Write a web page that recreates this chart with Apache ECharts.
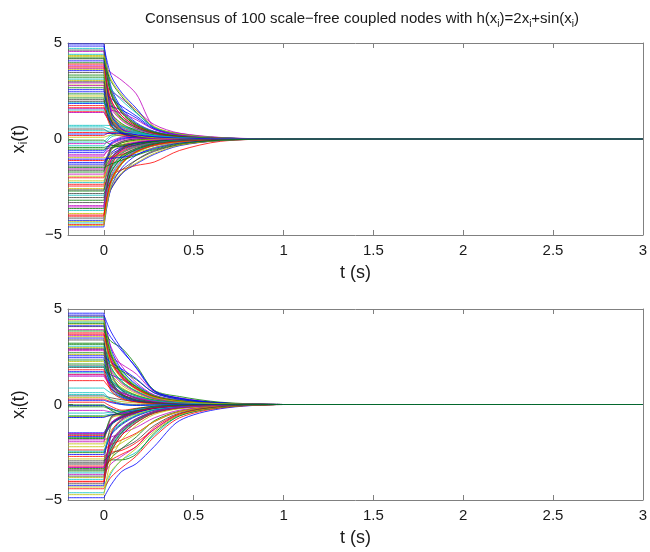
<!DOCTYPE html>
<html><head><meta charset="utf-8">
<script src="https://cdn.jsdelivr.net/npm/echarts@6/dist/echarts.min.js"></script>
<style>html,body{margin:0;padding:0;background:#fff}#c{width:650px;height:552px}</style>
</head><body><div id="c"></div><script>
// sample times (s); the first value of each node is held from t=-0.2 to t=0
const sampleTimes = [-0.2, 0, 0.04, 0.1, 0.18, 0.28, 0.42, 0.65, 1.0, 3];
// each row: x(0), x(0.04), x(0.1), x(0.18), x(0.28), x(0.42), x(0.65)
const topNodes = [
[4.95,2.7,1.6,0.85,0.4,0.18,0.05],[-3.62,-1.1,-0.45,-0.2,-0.08,-0.03,0],[1.42,0.8,0.5,0.3,0.15,0.07,0.02],[-0.35,0.1,0.2,0.12,0.06,0.02,0.01],[3.81,3.45,3.05,2.35,0.62,0.3,0.08],
[-2.18,-1.2,-0.7,-0.4,-0.2,-0.08,-0.02],[0.52,0.3,0.15,0.08,0.04,0.02,0],[-4.58,-2.5,-1.5,-0.85,-0.45,-0.2,-0.05],[2.67,0.9,0.35,0.15,0.07,0.03,0.01],[-1.12,-0.95,-0.8,-0.6,-0.35,-0.15,-0.04],
[4.41,1.4,0.5,0.2,0.1,0.04,0.01],[-0.82,-0.5,-0.3,-0.18,-0.1,-0.05,-0.01],[3.05,1.7,1.0,0.55,0.28,0.12,0.03],[-4.12,-1.3,-0.5,-0.2,-0.1,-0.04,-0.01],[1.85,1.7,1.5,1.1,0.5,0.2,0.05],
[-2.71,-1.5,-0.9,-0.5,-0.25,-0.1,-0.02],[0.18,0.35,0.3,0.15,0.07,0.03,0.01],[4.72,2.6,1.5,0.8,0.38,0.15,0.04],[-1.56,-0.5,-0.15,0,0.02,0.01,0],[2.24,1.3,0.75,0.42,0.2,0.08,0.02],
[-3.31,-2.6,-1.8,-1.1,-0.6,-0.3,-0.08],[3.56,1.1,0.45,0.2,0.08,0.03,0.01],[-0.06,-0.3,-0.4,-0.3,-0.16,-0.07,-0.02],[1.63,1.0,0.6,0.35,0.18,0.08,0.02],[-4.37,-2.3,-1.3,-0.7,-0.35,-0.15,-0.04],
[2.92,2.5,2.1,1.5,0.75,0.3,0.07],[-1.94,-0.6,-0.2,-0.05,0,0,0],[4.18,2.3,1.35,0.7,0.33,0.14,0.04],[-0.61,-0.2,0.05,0.08,0.04,0.02,0],[3.33,1.8,1.05,0.6,0.3,0.12,0.03],
[-2.45,-1.9,-1.6,-1.38,-1.2,-0.6,-0.12],[0.63,0.5,0.45,0.35,0.2,0.09,0.02],[4.56,1.5,0.55,0.22,0.1,0.04,0.01],[-3.88,-2.1,-1.2,-0.65,-0.3,-0.12,-0.03],[2.05,0.7,0.3,0.12,0.05,0.02,0],
[-1.31,-0.8,-0.5,-0.3,-0.15,-0.06,-0.01],[3.97,3.0,2.2,1.4,0.6,0.25,0.06],[-4.45,-1.5,-0.55,-0.22,-0.1,-0.04,-0.01],[1.51,0.9,0.55,0.32,0.16,0.07,0.02],[-0.24,-0.1,0.1,0.15,0.1,0.04,0.01],
[2.81,0.9,0.35,0.15,0.06,0.02,0],[-3.05,-1.7,-1.0,-0.55,-0.27,-0.1,-0.03],[4.84,3.3,2.4,1.6,0.55,0.22,0.05],[-1.72,-0.55,-0.2,-0.06,-0.01,0,0],[0.34,0.3,0.25,0.15,0.07,0.03,0.01],
[-2.93,-1.6,-0.95,-0.55,-0.26,-0.1,-0.03],[3.68,2.0,1.2,0.65,0.3,0.12,0.03],[-0.97,-0.9,-0.85,-0.7,-0.45,-0.2,-0.05],[1.96,1.15,0.7,0.4,0.2,0.08,0.02],[-4.24,-2.6,-1.8,-1.3,-0.8,-0.35,-0.08],
[3.22,1.0,0.4,0.17,0.07,0.03,0.01],[-2.02,-1.1,-0.65,-0.38,-0.18,-0.07,-0.02],[0.71,0.7,0.65,0.5,0.3,0.12,0.03],[-3.47,-1.9,-1.1,-0.6,-0.3,-0.12,-0.03],[4.29,2.4,1.4,0.75,0.35,0.15,0.04],
[-1.41,-0.45,-0.12,0,0.02,0.01,0],[2.46,2.1,1.7,1.2,0.55,0.22,0.05],[-0.44,-0.35,-0.3,-0.22,-0.12,-0.05,-0.01],[3.9,1.2,0.45,0.18,0.08,0.03,0.01],[-3.72,-2.0,-1.15,-0.62,-0.3,-0.12,-0.03],
[1.38,0.85,0.5,0.3,0.15,0.06,0.02],[-2.58,-0.8,-0.3,-0.1,-0.03,-0.01,0],[4.63,2.5,1.45,0.78,0.37,0.15,0.04],[-0.71,-0.25,0,0.06,0.04,0.02,0],[2.35,1.35,0.8,0.45,0.22,0.09,0.02],
[-4.02,-2.2,-1.25,-0.68,-0.32,-0.13,-0.03],[3.12,2.6,2.0,1.35,0.6,0.25,0.06],[-1.83,-1.05,-0.6,-0.35,-0.18,-0.07,-0.02],[0.09,0.2,0.2,0.12,0.06,0.02,0.01],[-2.84,-2.2,-1.6,-1.1,-0.65,-0.3,-0.07],
[4.07,1.3,0.5,0.2,0.08,0.03,0.01],[-3.19,-1.75,-1.0,-0.55,-0.27,-0.1,-0.03],[1.74,0.6,0.25,0.1,0.04,0.02,0],[-0.16,0.2,0.35,0.3,0.17,0.07,0.02],[2.78,1.6,0.95,0.52,0.25,0.1,0.03],
[-4.5,-2.5,-1.75,-1.25,-0.75,-0.32,-0.08],[3.46,1.9,1.1,0.6,0.29,0.12,0.03],[-1.22,-0.7,-0.4,-0.22,-0.1,-0.04,-0.01],[2.14,0.7,0.3,0.12,0.05,0.02,0],[-2.36,-1.3,-0.75,-0.42,-0.2,-0.08,-0.02],
[0.43,0.4,0.38,0.28,0.15,0.06,0.02],[-3.54,-1.1,-0.4,-0.15,-0.06,-0.02,0],[4.35,3.1,2.3,1.5,0.65,0.26,0.06],[-1.63,-0.95,-0.55,-0.32,-0.15,-0.06,-0.01],[2.57,0.8,0.3,0.12,0.05,0.02,0],
[-0.53,-0.45,-0.35,-0.25,-0.13,-0.05,-0.01],[3.75,2.05,1.2,0.66,0.31,0.13,0.03],[-2.27,-1.25,-0.72,-0.4,-0.2,-0.08,-0.02],[1.58,1.5,1.35,1.0,0.5,0.2,0.05],[-4.29,-2.3,-1.3,-0.7,-0.34,-0.14,-0.04],
[2.98,0.95,0.35,0.15,0.06,0.02,0],[-1.05,-1.0,-0.95,-0.8,-0.5,-0.22,-0.05],[4.22,2.35,1.35,0.72,0.34,0.14,0.04],[-3.96,-2.15,-1.25,-0.66,-0.32,-0.13,-0.03],[1.89,1.1,0.65,0.38,0.19,0.08,0.02],
[-0.89,-0.3,-0.05,0.05,0.03,0.01,0],[3.63,1.15,0.45,0.18,0.07,0.03,0.01],[-2.65,-1.45,-0.85,-0.48,-0.23,-0.09,-0.02],[0.26,0.3,0.3,0.22,0.12,0.05,0.01],[-1.49,-1.3,-1.1,-0.85,-0.55,-0.25,-0.06]
];
const bottomNodes = [
[4.78,2.9,1.8,1.05,0.48,0.22,0.05],[-3.35,-2.8,-2.3,-1.7,-0.85,-0.35,-0.08],[1.25,0.8,0.5,0.3,0.14,0.06,0.01],[-0.58,-0.5,-0.55,-0.35,-0.15,-0.06,-0.01],[3.92,2.4,1.5,0.85,0.4,0.18,0.04],
[-2.06,-0.75,-0.5,-0.3,-0.12,-0.05,-0.01],[0.45,0.35,0.25,0.15,0.07,0.03,0],[-4.88,-4.2,-3.5,-3.1,-2.2,-0.85,-0.22],[2.71,1.0,0.45,0.2,0.08,0.03,0],[-1.62,-1.0,-0.65,-0.4,-0.2,-0.08,-0.02],
[4.32,1.6,0.7,0.3,0.12,0.05,0.01],[-3.28,-2.0,-1.3,-0.78,-0.38,-0.16,-0.04],[2.98,1.85,1.15,0.68,0.3,0.14,0.03],[-4.15,-2.5,-1.6,-0.95,-0.45,-0.2,-0.05],[1.72,1.55,1.3,0.95,0.45,0.2,0.04],
[-2.52,-1.55,-1.0,-0.58,-0.28,-0.12,-0.03],[0.12,-0.1,-0.3,-0.2,-0.1,-0.04,-0.01],[4.55,2.75,1.7,1.0,0.46,0.2,0.05],[-1.85,-1.7,-1.5,-1.2,-0.7,-0.3,-0.07],[2.25,1.4,0.88,0.5,0.24,0.1,0.02],
[-3.42,-2.1,-1.35,-0.8,-0.38,-0.16,-0.04],[3.48,1.3,0.55,0.25,0.1,0.04,0.01],[-0.64,-0.55,-0.5,-0.38,-0.2,-0.08,-0.02],[1.58,1.0,0.62,0.36,0.17,0.07,0.02],[-4.62,-3.6,-2.9,-2.5,-1.6,-0.6,-0.15],
[2.88,2.5,2.1,1.6,0.68,0.35,0.09],[-2.21,-1.35,-0.85,-0.5,-0.24,-0.1,-0.02],[4.08,2.5,1.55,0.9,0.42,0.18,0.04],[-0.05,-0.2,-0.4,-0.3,-0.15,-0.06,-0.01],[3.21,1.95,1.2,0.7,0.33,0.15,0.03],
[-2.72,-2.5,-2.4,-2.0,-1.3,-0.5,-0.12],[0.52,0.2,0,-0.05,-0.03,-0.01,0],[4.46,3.0,2.0,1.15,0.5,0.22,0.05],[-3.82,-2.3,-1.45,-0.85,-0.4,-0.17,-0.04],[2.02,0.8,0.35,0.15,0.06,0.02,0],
[-1.48,-0.95,-0.6,-0.36,-0.17,-0.07,-0.02],[3.85,3.3,2.95,2.05,0.75,0.42,0.12],[-4.41,-3.8,-3.3,-2.7,-1.7,-0.7,-0.18],[1.66,1.05,0.65,0.38,0.18,0.08,0.02],[-0.31,-0.4,-0.5,-0.32,-0.15,-0.06,-0.01],
[2.62,1.6,1.0,0.58,0.27,0.12,0.03],[-3.05,-1.1,-0.6,-0.35,-0.15,-0.06,-0.01],[4.68,3.8,2.9,1.9,0.7,0.32,0.08],[-1.74,-1.08,-0.7,-0.42,-0.2,-0.08,-0.02],[0.28,0.15,0.05,0,0,0,0],
[-3.58,-2.2,-1.4,-0.82,-0.4,-0.17,-0.04],[3.62,2.2,1.4,0.8,0.38,0.17,0.04],[-0.61,-0.6,-0.6,-0.5,-0.3,-0.13,-0.03],[1.94,1.2,0.75,0.44,0.21,0.09,0.02],[-4.25,-1.6,-0.8,-0.45,-0.2,-0.08,-0.02],
[3.15,1.2,0.5,0.22,0.09,0.04,0.01],[-2.38,-2.1,-1.85,-1.5,-0.9,-0.38,-0.09],[0.86,0.6,0.4,0.24,0.11,0.05,0.01],[-3.66,-3.1,-2.7,-2.2,-1.3,-0.55,-0.14],[4.21,2.6,1.6,0.92,0.43,0.19,0.05],
[-1.56,-1.0,-0.63,-0.38,-0.18,-0.07,-0.02],[2.45,0.9,0.4,0.18,0.07,0.03,0],[-0.12,-0.25,-0.35,-0.3,-0.16,-0.07,-0.02],[3.75,2.3,1.45,0.84,0.4,0.17,0.04],[-3.92,-2.4,-1.5,-0.9,-0.42,-0.18,-0.04],
[1.48,0.95,0.6,0.35,0.16,0.07,0.02],[-2.85,-2.4,-2.0,-1.55,-0.9,-0.38,-0.09],[4.62,1.7,0.75,0.32,0.13,0.05,0.01],[-0.68,-0.55,-0.45,-0.3,-0.15,-0.06,-0.01],[2.33,2.05,1.75,1.3,0.62,0.28,0.07],
[-4.05,-2.5,-1.6,-0.95,-0.45,-0.19,-0.05],[3.05,1.9,1.2,0.7,0.33,0.14,0.03],[-1.95,-0.7,-0.45,-0.25,-0.1,-0.04,-0.01],[0.36,0.25,0.15,0.08,0.04,0.02,0],[-3.12,-1.95,-1.25,-0.74,-0.36,-0.15,-0.04],
[4.12,3.5,2.8,1.95,0.72,0.33,0.08],[-3.48,-2.9,-2.9,-2.6,-1.5,-0.6,-0.15],[1.82,0.7,0.3,0.13,0.05,0.02,0],[-0.45,-0.4,-0.38,-0.28,-0.14,-0.06,-0.01],[2.82,1.75,1.1,0.64,0.3,0.13,0.03],
[-4.72,-2.9,-1.85,-1.1,-0.52,-0.22,-0.05],[3.38,1.25,0.55,0.24,0.1,0.04,0.01],[-2.62,-1.6,-1.05,-0.62,-0.3,-0.13,-0.03],[2.12,1.3,0.82,0.48,0.23,0.1,0.02],[-3.22,-2.9,-2.6,-2.2,-1.2,-0.5,-0.12],
[0.62,0.25,0.05,-0.02,-0.01,0,0],[-1.52,-0.95,-0.6,-0.36,-0.17,-0.07,-0.02],[4.38,2.7,1.65,0.95,0.45,0.2,0.05],[-3.75,-2.3,-1.45,-0.85,-0.4,-0.17,-0.04],[2.55,2.2,1.85,1.35,0.6,0.27,0.07],
[-0.02,-0.3,-0.55,-0.35,-0.15,-0.06,-0.01],[3.68,2.25,1.4,0.82,0.39,0.17,0.04],[-2.45,-1.5,-0.95,-0.56,-0.27,-0.11,-0.03],[1.55,1.0,0.62,0.36,0.17,0.07,0.02],[-4.32,-3.5,-2.9,-2.3,-1.4,-0.55,-0.14],
[2.92,1.1,0.48,0.21,0.08,0.03,0],[-1.68,-1.05,-0.68,-0.4,-0.19,-0.08,-0.02],[4.25,2.6,1.6,0.93,0.44,0.19,0.05],[-4.02,-1.5,-0.75,-0.4,-0.18,-0.07,-0.02],[1.98,1.25,0.78,0.45,0.21,0.09,0.02],
[-3.3,-2.05,-1.3,-0.77,-0.37,-0.16,-0.04],[3.55,2.15,1.35,0.78,0.37,0.16,0.04],[-2.95,-2.6,-2.3,-1.9,-1.1,-0.45,-0.11],[0.22,0.1,0,-0.05,-0.03,-0.01,0],[-1.78,-0.65,-0.4,-0.22,-0.09,-0.04,-0.01]
];
const consensusTop = 0;
const consensusBottom = 0;
const xTicks = [0, 0.5, 1, 1.5, 2, 2.5, 3];
const yTicks = [-5, 0, 5];
const lineColors = ['#0000ff', '#008000', '#ff0000', '#00bfbf', '#bf00bf', '#bfbf00', '#404040'];
const titleText = '{a|Consensus of 100 scale\u2212free coupled nodes with h(x}{s|i}{a|)=2x}{s|i}{a|+sin(x}{s|i}{a|)}';

const FONT = '"Liberation Sans", Arial, Helvetica, sans-serif';
const AXC = '#808080';
const TXT = '#1a1a1a';

function buildSeries(nodes, consensus, xIdx, yIdx) {
  return nodes.map((row, i) => {
    const vals = [row[0]].concat(row, [consensus, consensus]);
    const pts = sampleTimes.map((t, k) => [t, vals[k]]);
    // break after the held initial segment so the decay starts with its own tangent
    const data = [pts[0], pts[1], [sampleTimes[1], '-']].concat(pts.slice(1));
    return {
      type: 'line', xAxisIndex: xIdx, yAxisIndex: yIdx,
      data: data, connectNulls: false,
      showSymbol: false, symbol: 'none', smooth: 0.3,
      lineStyle: { width: 0.8, color: lineColors[i % lineColors.length] },
      silent: true, animation: false, clip: true
    };
  });
}
const fmtNum = v => (v < 0 ? '\u2212' + Math.abs(v) : String(v));

function xAxes(g) {
  return [{
    gridIndex: g, type: 'value', min: -0.2, max: 3, position: 'bottom',
    axisLine: { show: true, onZero: false, lineStyle: { color: AXC, width: 1 } },
    axisTick: { show: true, inside: true, length: 5, customValues: xTicks, lineStyle: { color: AXC } },
    axisLabel: { show: true, customValues: xTicks, formatter: fmtNum, fontSize: 15, color: TXT, fontFamily: FONT, margin: 8 },
    splitLine: { show: false },
    name: 't (s)', nameLocation: 'middle', nameGap: 29,
    nameTextStyle: { fontSize: 18, color: TXT, fontFamily: FONT }
  }, {
    gridIndex: g, type: 'value', min: -0.2, max: 3, position: 'top',
    axisLine: { show: true, onZero: false, lineStyle: { color: AXC, width: 1 } },
    axisTick: { show: true, inside: true, length: 5, customValues: xTicks, lineStyle: { color: AXC } },
    axisLabel: { show: false }, splitLine: { show: false }
  }];
}
function yAxes(g) {
  return [{
    gridIndex: g, type: 'value', min: -5, max: 5, position: 'left',
    axisLine: { show: true, onZero: false, lineStyle: { color: AXC, width: 1 } },
    axisTick: { show: true, inside: true, length: 5, customValues: yTicks, lineStyle: { color: AXC } },
    axisLabel: { show: true, customValues: yTicks, formatter: fmtNum, fontSize: 15, color: TXT, fontFamily: FONT, margin: 6 },
    splitLine: { show: false },
    name: '{x|x}{s|i}{x|(t)}', nameLocation: 'middle', nameRotate: 90, nameGap: 38,
    nameTextStyle: { rich: {
      x: { fontSize: 18, lineHeight: 22, color: TXT, fontFamily: FONT },
      s: { fontSize: 12, lineHeight: 12, verticalAlign: 'bottom', color: TXT, fontFamily: FONT }
    } }
  }, {
    gridIndex: g, type: 'value', min: -5, max: 5, position: 'right',
    axisLine: { show: true, onZero: false, lineStyle: { color: AXC, width: 1 } },
    axisTick: { show: true, inside: true, length: 5, customValues: yTicks, lineStyle: { color: AXC } },
    axisLabel: { show: false }, splitLine: { show: false }
  }];
}

const chart = echarts.init(document.getElementById('c'), null, { renderer: 'canvas' });
chart.setOption({
  animation: false,
  backgroundColor: '#ffffff',
  title: {
    text: titleText, left: 357, top: 4, textAlign: 'center',
    textStyle: { fontWeight: 'normal', rich: {
      a: { fontSize: 15, lineHeight: 20, fontWeight: 'normal', color: TXT, fontFamily: FONT },
      s: { fontSize: 10, lineHeight: 10, fontWeight: 'normal', verticalAlign: 'bottom', color: TXT, fontFamily: FONT }
    } }
  },
  grid: [
    { left: 68, top: 43, width: 578, height: 192, containLabel: false },
    { left: 68, top: 309, width: 578, height: 191, containLabel: false }
  ],
  xAxis: xAxes(0).concat(xAxes(1)),
  yAxis: yAxes(0).concat(yAxes(1)),
  series: buildSeries(topNodes, consensusTop, 0, 0).concat(buildSeries(bottomNodes, consensusBottom, 2, 2))
});
</script></body></html>
